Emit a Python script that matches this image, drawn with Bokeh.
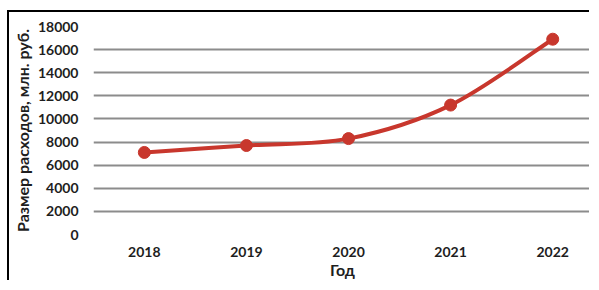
from bokeh.plotting import figure
from bokeh.layouts import column
from bokeh.models import Range1d, FixedTicker
from bokeh.embed import file_html
from bokeh.resources import INLINE
import numpy as np

years = [2018, 2019, 2020, 2021, 2022]
values = [7100, 7700, 8300, 11200, 16900]
y_ticks = list(range(0, 18001, 2000))

FONT = "Lato"
RED = "#C8372D"

p = figure(width=582, height=270, output_backend="svg", toolbar_location=None,
           x_range=Range1d(2017.502, 2022.38), y_range=Range1d(0, 18000),
           min_border_left=82, min_border_right=0, min_border_top=14, min_border_bottom=48)
p.styles = {"border-top": "2px solid black", "border-left": "2px solid black"}
p.outline_line_color = None
p.xgrid.grid_line_color = None
p.ygrid.grid_line_color = "#8c8c8c"
p.ygrid.grid_line_width = 2
p.ygrid.ticker = FixedTicker(ticks=y_ticks)

p.yaxis.ticker = FixedTicker(ticks=y_ticks)
p.xaxis.ticker = FixedTicker(ticks=years)
for ax in (p.xaxis[0], p.yaxis[0]):
    ax.axis_line_color = None
    ax.major_tick_line_color = None
    ax.minor_tick_line_color = None
    ax.major_tick_out = 0
    ax.major_tick_in = 0
    ax.minor_tick_out = 0
    ax.minor_tick_in = 0
    ax.major_label_text_font = FONT
    ax.major_label_text_font_size = "14px"
    ax.major_label_text_font_style = "bold"
    ax.major_label_text_color = "#1e1e1e"
    ax.axis_label_text_font = FONT
    ax.axis_label_text_font_size = "16px"
    ax.axis_label_text_font_style = "bold"
    ax.axis_label_text_color = "#1e1e1e"
p.yaxis.axis_label = "Размер расходов, млн. руб."
p.xaxis.axis_label = "Год"
p.yaxis.major_label_standoff = 15
p.xaxis.major_label_standoff = 12
p.yaxis.axis_label_standoff = 3
p.xaxis.axis_label_standoff = 0

# smoothed line (Catmull-Rom style Bezier segments through the data points)
xs = np.array(years, dtype=float)
ys = np.array(values, dtype=float)
n = len(xs)
x0, y0, x1, y1, cx0, cy0, cx1, cy1 = [], [], [], [], [], [], [], []
for i in range(n - 1):
    xp, yp = (xs[i - 1], ys[i - 1]) if i > 0 else (xs[i], ys[i])
    xn, yn = (xs[i + 2], ys[i + 2]) if i + 2 < n else (xs[i + 1], ys[i + 1])
    x0.append(xs[i]); y0.append(ys[i]); x1.append(xs[i + 1]); y1.append(ys[i + 1])
    cx0.append(xs[i] + (xs[i + 1] - xp) / 6); cy0.append(ys[i] + (ys[i + 1] - yp) / 6)
    cx1.append(xs[i + 1] - (xn - xs[i]) / 6); cy1.append(ys[i + 1] - (yn - ys[i]) / 6)
p.bezier(x0=x0, y0=y0, x1=x1, y1=y1, cx0=cx0, cy0=cy0, cx1=cx1, cy1=cy1,
         line_color=RED, line_width=4)
p.scatter(years, values, size=12, fill_color=RED, line_color=RED)

layout = column(p, styles={"padding-left": "7px", "padding-top": "10px"})

open("out.html", "w").write(file_html(layout, INLINE))
